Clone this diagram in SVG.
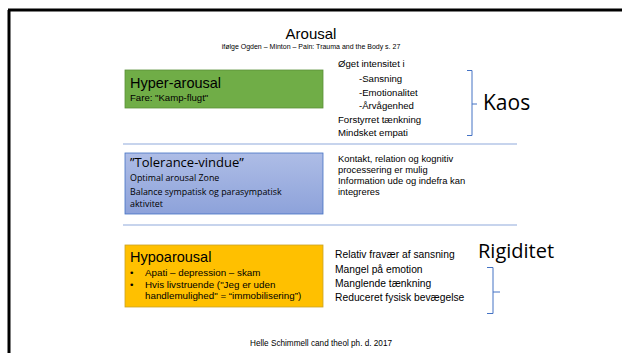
<svg xmlns="http://www.w3.org/2000/svg" width="622" height="353" viewBox="0 0 622 353">
<style>
.a{font-family:"Liberation Sans",Arial,sans-serif;fill:#000}
.c{font-family:"Open Sans",Lato,sans-serif;fill:#000}
.sep{stroke:#8FAADC;stroke-width:1.2}
.br{fill:none;stroke:#4472C4;stroke-width:1}
</style>
<defs>
<linearGradient id="gb" x1="0" y1="0" x2="0" y2="1">
<stop offset="0" stop-color="#AEBDE6"/>
<stop offset="1" stop-color="#8DA2DA"/>
</linearGradient>
</defs>
<rect width="622" height="353" fill="#fff"/>
<g id="frame">
<line x1="8" y1="10" x2="622" y2="10" stroke="#000" stroke-width="3"/>
<line x1="9" y1="10" x2="9" y2="353" stroke="#000" stroke-width="3"/>
</g>
<g id="title">
<text class="a" x="311" y="39" font-size="15" text-anchor="middle">Arousal</text>
<text class="a" x="311" y="49" font-size="7" text-anchor="middle">ifølge Ogden – Minton – Pain: Trauma and the Body s. 27</text>
</g>
<g id="connectors">
<line class="sep" x1="123" y1="144" x2="517" y2="144"/>
<line class="sep" x1="123" y1="225" x2="517" y2="225"/>
<path class="br" d="M467 70.5 H472 V135.5 H467 M472 104 H477"/>
<path class="br" d="M487 267.5 H493 V313.5 H487 M493 292 H500"/>
</g>
<g id="hyper">
<rect x="125" y="70" width="198" height="38" fill="#70AD47" stroke="#5B8F39" stroke-width="0.8"/>
<text class="a" x="130" y="88" font-size="14.5">Hyper-arousal</text>
<text class="a" x="130" y="101" font-size="9.6">Fare: "Kamp-flugt"</text>
</g>
<g id="hyper-text">
<text class="a" x="338" y="67" font-size="9.6">Øget intensitet i</text>
<text class="a" x="359" y="82" font-size="9.6">-Sansning</text>
<text class="a" x="359" y="95.5" font-size="9.6">-Emotionalitet</text>
<text class="a" x="359" y="108.5" font-size="9.6">-Årvågenhed</text>
<text class="a" x="338" y="123" font-size="9.6">Forstyrret tænkning</text>
<text class="a" x="338" y="136" font-size="9.6">Mindsket empati</text>
<text class="c" x="483" y="110" font-size="21">Kaos</text>
</g>
<g id="tolerance">
<rect x="125" y="153" width="198" height="61" fill="url(#gb)" stroke="#4472C4" stroke-width="0.8"/>
<text class="c" x="130" y="167" font-size="13">”Tolerance-vindue”</text>
<text class="c" x="130" y="181" font-size="8.9">Optimal arousal Zone</text>
<text class="c" x="130" y="194.5" font-size="8.9">Balance sympatisk og parasympatisk</text>
<text class="c" x="130" y="207" font-size="8.9">aktivitet</text>
</g>
<g id="tolerance-text">
<text class="a" x="338" y="162" font-size="9.4">Kontakt, relation  og kognitiv</text>
<text class="a" x="338" y="173" font-size="9.4">processering er mulig</text>
<text class="a" x="338" y="184" font-size="9.4">Information ude og indefra kan</text>
<text class="a" x="338" y="195" font-size="9.4">integreres</text>
</g>
<g id="hypo">
<rect x="125" y="245" width="198" height="62" fill="#FFC000" stroke="#C9A227" stroke-width="0.8"/>
<text class="a" x="130" y="262" font-size="14.5">Hypoarousal</text>
<text class="a" x="130" y="276" font-size="9.8">•</text>
<text class="a" x="145" y="276" font-size="9.8">Apati – depression – skam</text>
<text class="a" x="130" y="287.5" font-size="9.8">•</text>
<text class="a" x="145" y="287.5" font-size="9.8">Hvis livstruende ("Jeg er uden</text>
<text class="a" x="145" y="299" font-size="9.8">handlemulighed" = “immobilisering”)</text>
</g>
<g id="hypo-text">
<text class="a" x="335" y="258" font-size="10.3">Relativ fravær af sansning</text>
<text class="a" x="335" y="272.5" font-size="10.3">Mangel på emotion</text>
<text class="a" x="335" y="286.5" font-size="10.3">Manglende tænkning</text>
<text class="a" x="335" y="301" font-size="10.3">Reduceret fysisk bevægelse</text>
<text class="c" x="478" y="258" font-size="20">Rigiditet</text>
</g>
<g id="footer">
<text class="a" x="321" y="346" font-size="8.2" text-anchor="middle">Helle Schimmell cand theol ph. d. 2017</text>
</g>
</svg>
